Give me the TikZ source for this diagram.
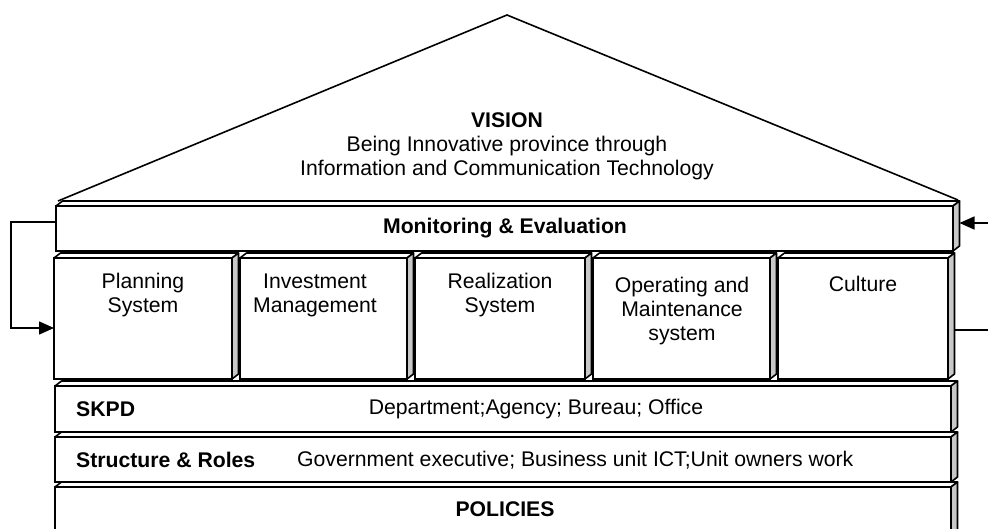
\documentclass[tikz,border=0pt]{standalone}
\usepackage{fontspec}
\setmainfont{Liberation Sans}
\usetikzlibrary{arrows.meta}
\definecolor{sidegray}{RGB}{200,200,200}
\tikzset{
 front/.style={draw, fill=white, line width=1.6pt, rectangle, outer sep=0pt, inner sep=0pt},
 txt/.style={font=\fontsize{21.2}{24}\selectfont, align=center, inner sep=0pt},
 btxt/.style={font=\fontsize{21.2}{24}\selectfont\bfseries, align=center, inner sep=0pt},
 conn/.style={line width=1.6pt},
 tip/.style={-{Triangle[length=15pt,width=13pt]}},
 face/.style={line width=1.6pt, line join=round},
}
\newcommand{\threed}[1]{%
 \filldraw[face, fill=white] (#1.north west) -- ([shift={(6.5pt,5pt)}]#1.north west) -- ([shift={(6.5pt,5pt)}]#1.north east) -- (#1.north east) -- cycle;
 \filldraw[face, fill=sidegray] (#1.north east) -- ([shift={(6.5pt,5pt)}]#1.north east) -- ([shift={(6.5pt,5pt)}]#1.south east) -- (#1.south east) -- cycle;}
\begin{document}
\begin{tikzpicture}[x=1pt,y=-1pt]
\clip (0,0) rectangle (988,529);
% roof
\coordinate (rl) at (58,201);
\coordinate (ra) at (507,15);
\coordinate (rr) at (958,200);
\draw[line width=1.6pt, line join=miter] (rl) -- (ra) -- (rr);
\node[txt] (vision) at (507,146) {\textbf{VISION}\\Being Innovative province through\\Information and Communication Technology};
% monitoring
\node[front, minimum width=897pt, minimum height=45pt] (mon) at (504.5,228.5) {};
\threed{mon}
\node[btxt] (monT) at (505,228) {Monitoring \& Evaluation};
% pillars
\node[front, minimum width=178pt, minimum height=121pt] (plan) at (143,318.5) {};
\node[front, minimum width=167pt, minimum height=121pt] (inv) at (323.5,318.5) {};
\node[front, minimum width=170pt, minimum height=121pt] (real) at (500,318.5) {};
\node[front, minimum width=177pt, minimum height=121pt] (oper) at (681.5,318.5) {};
\node[front, minimum width=170pt, minimum height=121pt] (cul) at (863,318.5) {};
\threed{plan}\threed{inv}\threed{real}\threed{oper}\threed{cul}
\node[txt] (planT) at (143,295.5) {Planning\\System};
\node[txt] (invT) at (315,295.5) {Investment\\Management};
\node[txt] (realT) at (500,295.5) {Realization\\System};
\node[txt] (operT) at (682,311.5) {Operating and\\Maintenance\\system};
\node[txt] (culT) at (863,284) {Culture};
% layers
\node[front, minimum width=896pt, minimum height=46pt] (skpd) at (503,409) {};
\threed{skpd}
\node[btxt, anchor=west] (skpdT) at (76,409) {SKPD};
\node[txt] (skpdD) at (536,409) {Department;Agency; Bureau; Office};
\node[front, minimum width=896pt, minimum height=45pt] (struc) at (503,459.5) {};
\threed{struc}
\node[btxt, anchor=west] (strucT) at (76,460) {Structure \& Roles};
\node[txt, anchor=west] (strucD) at (297,460) {Government executive; Business unit ICT;Unit owners work};
\node[front, minimum width=896pt, minimum height=73pt] (pol) at (503,523.5) {};
\threed{pol}
\node[btxt] (polT) at (505,509) {POLICIES};
% connectors
\draw[conn, tip] ([yshift=6.5pt]mon.west) -- ++(-45pt,0) |- ([yshift=-9.5pt]plan.west);
\coordinate (rin) at (990,223);
\coordinate (rout) at (990,330);
\draw[conn, tip] (rin) -- ([shift={(6.5pt,5.5pt)}]mon.east);
\draw[conn] ([shift={(6.5pt,-11.5pt)}]cul.east) -- (rout);
\end{tikzpicture}
\end{document}
